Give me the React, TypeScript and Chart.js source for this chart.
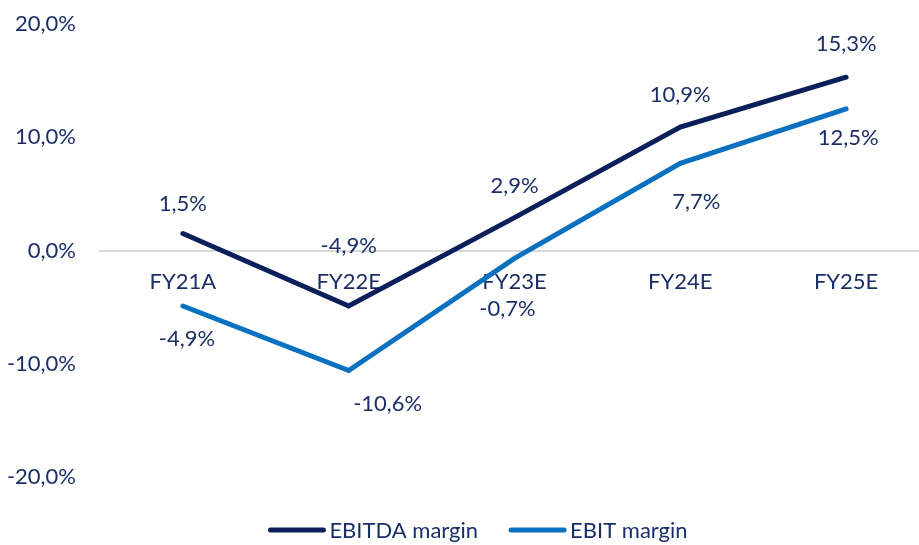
import React, { useEffect, useRef } from "react";
import { Chart, registerables } from "chart.js";

Chart.register(...registerables);

const categories = ["FY21A", "FY22E", "FY23E", "FY24E", "FY25E"];
const ebitdaMargin = [1.5, -4.9, 2.9, 10.9, 15.3];
const ebitMargin = [-4.9, -10.6, -0.7, 7.7, 12.5];
const seriesNames = ["EBITDA margin", "EBIT margin"];

// label offsets (px) relative to each point, per series
const labelOffsets = [
  [[0, -30], [0, -60], [0, -32], [0, -32], [0, -33]],
  [[4, 33], [39, 33], [-7, 50], [16, 39], [2, 29]],
];

const TEXT = "#1b2f66";
const FONT = "Lato, 'Open Sans', sans-serif";
const fmt = (v: number) => v.toFixed(1).replace(".", ",") + "%";

const labelsPlugin = {
  id: "customLabels",
  afterDatasetsDraw(chart: any) {
    const ctx = chart.ctx;
    ctx.save();
    ctx.font = `22px ${FONT}`;
    ctx.fillStyle = TEXT;
    ctx.textAlign = "center";
    ctx.textBaseline = "middle";
    chart.data.datasets.forEach((ds: any, di: number) => {
      const meta = chart.getDatasetMeta(di);
      meta.data.forEach((pt: any, i: number) => {
        const [dx, dy] = labelOffsets[di][i];
        ctx.fillText(fmt(ds.data[i]), pt.x + dx, pt.y + dy);
      });
    });
    // legend
    const sample = 57;
    const gapText = 4;
    const gapItems = 31;
    const widths = chart.data.datasets.map((ds: any) => ctx.measureText(ds.label).width);
    const total = widths.reduce((a: number, w: number) => a + sample + gapText + w, 0) + gapItems * (widths.length - 1);
    let x = 478 - total / 2;
    const y = 530;
    ctx.textAlign = "left";
    chart.data.datasets.forEach((ds: any, di: number) => {
      ctx.strokeStyle = ds.borderColor;
      ctx.lineWidth = 5;
      ctx.lineCap = "round";
      ctx.beginPath();
      ctx.moveTo(x + 2, y);
      ctx.lineTo(x + sample - 2, y);
      ctx.stroke();
      ctx.fillStyle = TEXT;
      ctx.fillText(ds.label, x + sample + gapText, y + 1);
      x += sample + gapText + widths[di] + gapItems;
    });
    ctx.restore();
  },
};

export default function App() {
  const ref = useRef<HTMLCanvasElement>(null);
  useEffect(() => {
    const chart = new Chart(ref.current!, {
      type: "line",
      data: {
        labels: categories,
        datasets: [
          {
            label: seriesNames[0],
            data: ebitdaMargin,
            borderColor: "#0b1f5a",
            backgroundColor: "#0b1f5a",
            borderWidth: 5,
            pointRadius: 0,
            borderCapStyle: "round",
            tension: 0,
          },
          {
            label: seriesNames[1],
            data: ebitMargin,
            borderColor: "#0a70c0",
            backgroundColor: "#0a70c0",
            borderWidth: 5,
            pointRadius: 0,
            borderCapStyle: "round",
            tension: 0,
          },
        ],
      },
      options: {
        animation: false,
        responsive: false,
        maintainAspectRatio: false,
        layout: { padding: { top: 24, bottom: 68, left: 0, right: 0 } },
        plugins: { legend: { display: false }, tooltip: { enabled: false } },
        scales: {
          x: {
            type: "category",
            offset: true,
            position: { y: 0 } as any,
            grid: { display: false, drawTicks: false, offset: true },
            border: { display: true, color: "#d9d9d9", width: 2 },
            ticks: { color: TEXT, font: { family: FONT, size: 22 }, padding: 18, maxRotation: 0 },
          },
          y: {
            min: -20,
            max: 20,
            grid: { display: false, drawTicks: false },
            border: { display: false },
            afterFit: (s: any) => {
              s.width = 100;
              s.paddingTop = 0;
              s.paddingBottom = 0;
            },
            ticks: {
              stepSize: 10,
              color: TEXT,
              padding: 24,
              font: { family: FONT, size: 22 },
              callback: (v: any) => fmt(Number(v)),
            },
          },
        },
      },
      plugins: [labelsPlugin],
    });
    return () => chart.destroy();
  }, []);
  return (
    <div style={{ position: "fixed", left: 0, top: 0, width: 919, height: 545, overflow: "hidden", background: "#fff" }}>
      <canvas ref={ref} width={929} height={545} style={{ display: "block" }} />
    </div>
  );
}
